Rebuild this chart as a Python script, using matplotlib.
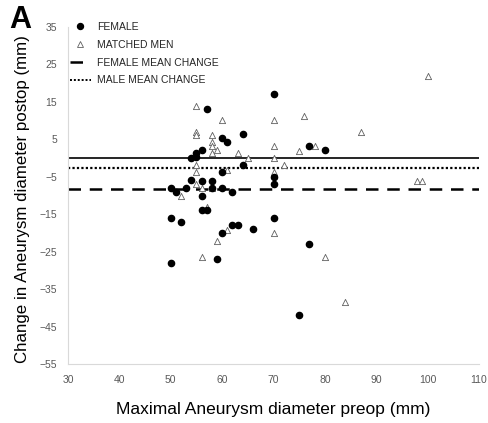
import matplotlib
matplotlib.use("Agg")
import matplotlib.pyplot as plt
from matplotlib.lines import Line2D

# Data
female_x = [50, 51, 53, 54, 55, 55, 56, 57, 60, 61, 64, 70, 77, 80, 64, 60, 54, 56, 58, 70, 70,
            56, 58, 60, 62, 56, 57, 50, 52, 70, 62, 63, 66, 60, 77, 59, 50, 75]
female_y = [-8, -9, -8, 0, 0.3, 1.3, 2.2, 13, 5.3, 4.2, 6.3, 17, 3.2, 2.2, -1.8, -3.8, -5.8, -6, -6, -5, -7,
            -10, -8, -8, -9, -14, -14, -16, -17, -16, -18, -18, -19, -20, -23, -27, -28, -42]

men_x = [55, 60, 55, 55, 58, 58, 58, 59, 58, 63, 65, 55, 55, 61, 55, 56, 58, 52, 57, 61, 59, 56,
         70, 70, 70, 70, 70, 72, 75, 76, 78, 87, 98, 99, 100, 80, 84]
men_y = [14, 10.2, 7, 6.2, 6.2, 4.2, 3.3, 2.2, 1.3, 1.3, 0, -1.8, -3.8, -3.2, -6.9, -8, -8, -10, -13, -19.2, -22.1, -26.3,
         -20, 10.2, 3.1, 0, -3.6, -1.9, 2, 11.2, 3.1, 7, -6, -6, 22, -26.5, -38.5]

female_mean = -8.3
male_mean = -2.7
zero_line = 0

x_ticks = [30, 40, 50, 60, 70, 80, 90, 100, 110]
y_ticks = [35, 25, 15, 5, -5, -15, -25, -35, -45, -55]

plt.rcParams['font.family'] = ['Liberation Sans', 'DejaVu Sans']

fig = plt.figure(figsize=(4.89, 4.23), dpi=100)
ax = fig.add_axes([68/489, 1-364/423, (479-68)/489, (364-27)/423])

ax.axhline(zero_line, color='black', lw=1.2, zorder=1)
ax.axhline(male_mean, color='black', lw=1.6, ls=(0, (1, 1)), zorder=1)
ax.axhline(female_mean, color='black', lw=1.8, ls=(0, (5, 3.5)), zorder=1)

ax.scatter(men_x, men_y, marker='^', s=20, facecolor='white', edgecolor='#606060', linewidths=0.6, zorder=3)
ax.scatter(female_x, female_y, marker='o', s=20, color='black', zorder=4)

ax.set_xlim(30, 110)
ax.set_ylim(-55, 35)
ax.set_xticks(x_ticks)
ax.set_yticks(y_ticks)
ax.tick_params(length=0, labelsize=7.5, labelcolor='#595959', pad=8)
for s in ['top', 'right']:
    ax.spines[s].set_visible(False)
for s in ['left', 'bottom']:
    ax.spines[s].set_color('#d9d9d9')
    ax.spines[s].set_linewidth(0.8)

ax.set_xlabel('Maximal Aneurysm diameter preop (mm)', fontsize=12.5, labelpad=12)
ax.set_ylabel('Change in Aneurysm diameter postop (mm)', fontsize=12.2)
ax.yaxis.set_label_coords(-0.093, 0.49)

handles = [
    Line2D([], [], marker='o', color='black', ls='none', markersize=4.3),
    Line2D([], [], marker='^', markerfacecolor='white', markeredgecolor='#606060', ls='none', markersize=4.3, markeredgewidth=0.6),
    Line2D([], [], color='black', lw=1.8, ls=(0, (5, 3.5))),
    Line2D([], [], color='black', lw=1.4, ls=(0, (1, 1))),
]
labels = ['FEMALE', 'MATCHED MEN', 'FEMALE MEAN CHANGE', 'MALE MEAN CHANGE']
leg = fig.legend(handles, labels, loc='upper left', bbox_to_anchor=(70/489, 1-22/423),
                 frameon=False, fontsize=7.5, handlelength=2.0, handletextpad=0.6,
                 labelspacing=0.75, borderaxespad=0, borderpad=0)
for t in leg.get_texts():
    t.set_color('#262626')

fig.text(9/489, 1-5/423, 'A', fontsize=22, fontweight='bold', va='top', ha='left')

fig.savefig('out.png', dpi=100)
